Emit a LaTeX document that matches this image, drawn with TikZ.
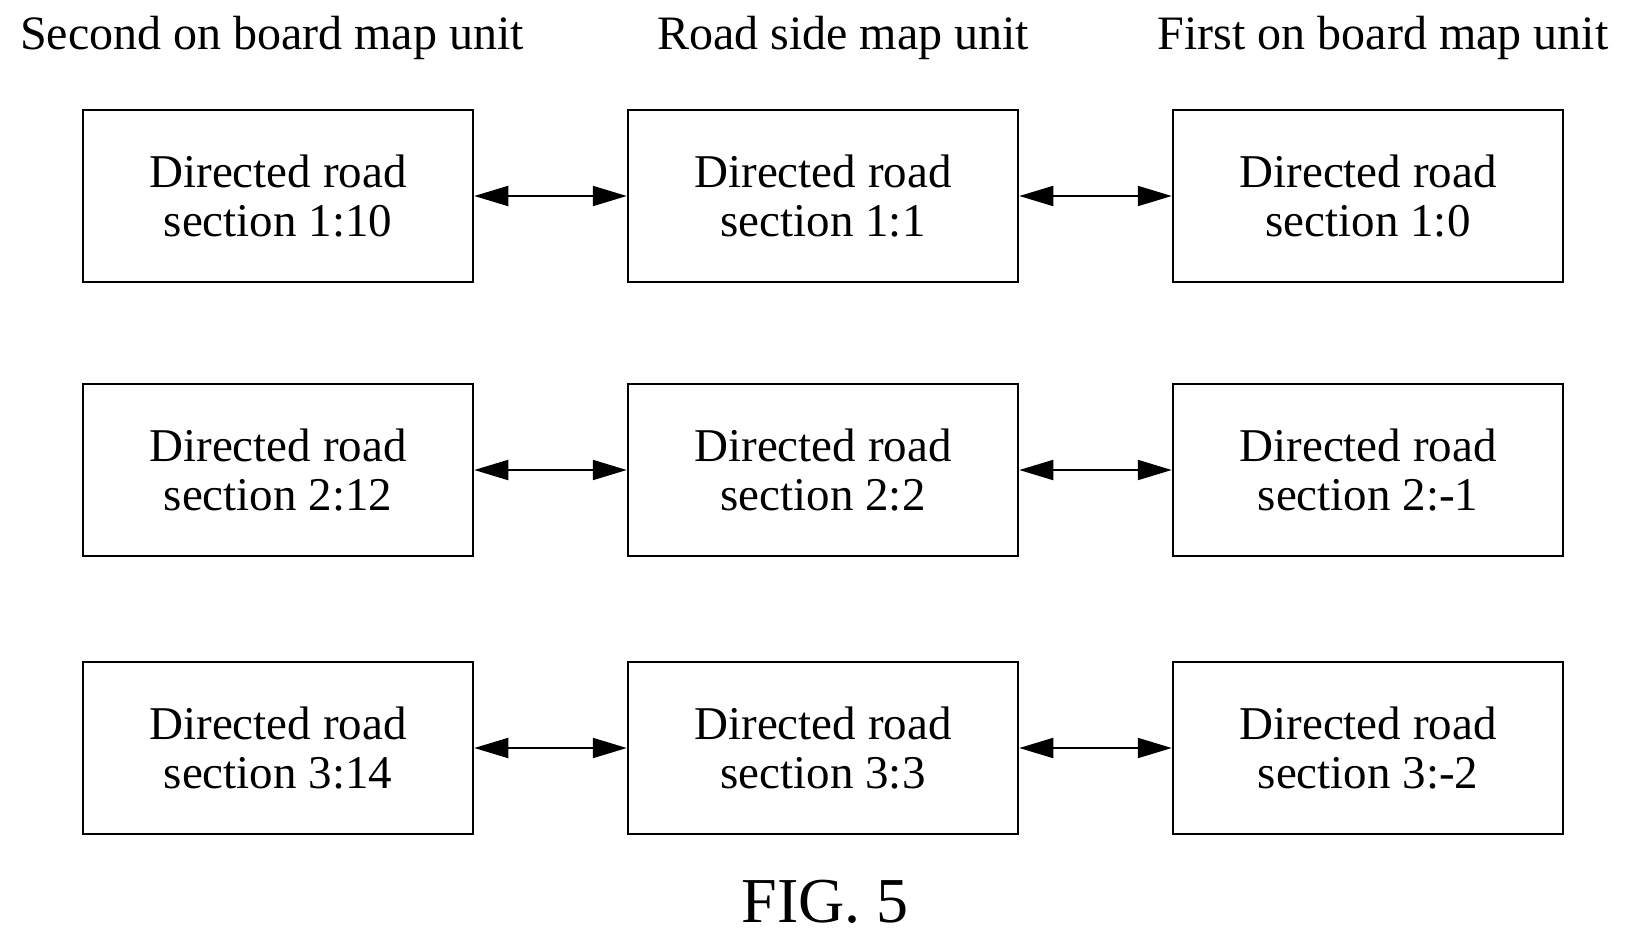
\documentclass[tikz,border=0pt]{standalone}
\usepackage{fontspec}
\setmainfont{Liberation Serif}
\usetikzlibrary{arrows.meta}
\begin{document}
\begin{tikzpicture}[x=1pt,y=-1pt,
  box/.style={draw,line width=2.5pt,minimum width=390pt,minimum height=172pt,align=center,font=\fontsize{47}{49}\selectfont,inner sep=0pt},
  hdr/.style={font=\fontsize{48}{50}\selectfont,inner sep=0pt},
  conn/.style={line width=2pt,{Triangle[length=34pt,width=20pt]}-{Triangle[length=34pt,width=20pt]}}]
\useasboundingbox (0,0) rectangle (1631,946);
\node[hdr] (h1) at (272,38) {Second on board map unit};
\node[hdr] (h2) at (843,38) {Road side map unit};
\node[hdr] (h3) at (1383,38) {First on board map unit};
\foreach \r/\y/\a/\b/\c in {1/196/10/1/0, 2/470/12/2/-1, 3/748/14/3/-2}{
  \node[box] (l\r) at (278,\y) {Directed road\\section \r:\a};
  \node[box] (m\r) at (823,\y) {Directed road\\section \r:\b};
  \node[box] (r\r) at (1368,\y) {Directed road\\section \r:\c};
  \draw[conn] (l\r) -- (m\r);
  \draw[conn] (m\r) -- (r\r);
}
\node[font=\fontsize{64}{70}\selectfont,inner sep=0pt] (fig) at (825,902) {FIG. 5};
\end{tikzpicture}
\end{document}
